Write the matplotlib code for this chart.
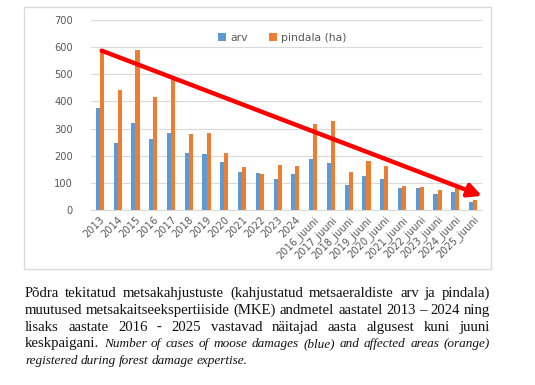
import numpy as np
from matplotlib import pyplot as plt
from matplotlib.patches import Rectangle

# categories and values
years = ["2013", "2014", "2015", "2016", "2017", "2018", "2019", "2020",
         "2021", "2022", "2023", "2024",
         "2016_juuni", "2017_juuni", "2018_juuni", "2019_juuni", "2020_juuni",
         "2021_juuni", "2022_juuni", "2023_juuni", "2024_juuni", "2025_juuni"]
arv = [377, 246, 320, 263, 284, 209, 205, 177, 140, 136, 115, 131,
       188, 172, 93, 124, 115, 80, 80, 59, 68, 28]
pindala = [587, 443, 589, 415, 494, 280, 285, 211, 157, 134, 167, 161,
           317, 328, 141, 180, 161, 90, 84, 75, 86, 37]

# trend arrow, data coords (start, end)
arrow_start = (0.1, 587)
arrow_end = (21.5, 52)

caption_lines = [
    [("Põdra tekitatud metsakahjustuste (kahjustatud metsaeraldiste arv ja pindala)", "normal")],
    [("muutused metsakaitseekspertiiside (MKE) andmetel aastatel 2013 – 2024 ning", "normal")],
    [("lisaks aastate 2016 - 2025 vastavad näitajad aasta algusest kuni juuni", "normal")],
    [("keskpaigani.", "normal"),
     ("Number of cases of moose damages (blue) and affected areas (orange)", "italic")],
    [("registered during forest damage expertise.", "italic")],
]

W, H = 535, 385
fig = plt.figure(figsize=(W / 100, H / 100), dpi=100)

# chart frame
fig.patches.append(Rectangle((24 / W, 1 - 269 / H), 467 / W, 262 / H,
                             transform=fig.transFigure, fill=False,
                             edgecolor="#d9d9d9", lw=1.0))

ax = fig.add_axes([91 / W, 1 - 210 / H, 391 / W, 190 / H])
x = np.arange(len(years))
w = 0.23
ax.bar(x - w / 2, arv, w, color="#5b9bd5", label="arv", zorder=2)
ax.bar(x + w / 2, pindala, w, color="#ed7d31", label="pindala (ha)", zorder=2)

ax.set_xlim(-0.5, len(years) - 0.5)
ax.set_ylim(0, 700)
ax.set_yticks(range(0, 701, 100))
ax.grid(axis="y", color="#d9d9d9", lw=0.8, zorder=0)
for s in ["top", "right", "left"]:
    ax.spines[s].set_visible(False)
ax.spines["bottom"].set_color("#d9d9d9")
ax.set_xticks(x)
ax.set_xticklabels(years, rotation=45, ha="right", rotation_mode="anchor")
ax.tick_params(axis="both", length=0, labelsize=7.1, colors="#595959", pad=3)
ax.tick_params(axis="y", pad=13)

ax.legend(loc="upper center", bbox_to_anchor=(0.49, 0.985), ncol=2, frameon=False,
          fontsize=7.8, labelcolor="#595959", handlelength=0.7, handleheight=0.7,
          columnspacing=2.0, handletextpad=0.4)

ax.annotate("", xy=arrow_end, xytext=arrow_start,
            arrowprops=dict(arrowstyle="-|>", color="#ff0000", lw=3.2,
                            mutation_scale=20, shrinkA=0, shrinkB=0),
            annotation_clip=False, zorder=5)

# justified caption
fig.canvas.draw()
r = fig.canvas.get_renderer()
left, right = 25, 490
base = 297
for li, segs in enumerate(caption_lines):
    words = []
    for txt, style in segs:
        for wd in txt.split(" "):
            words.append((wd, style))
    arts = []
    for wd, style in words:
        size = 10.6 if style == "normal" else 9.5
        t = fig.text(0, 0, wd, fontsize=size, family="Liberation Serif",
                     style=style, color="#111111", va="baseline")
        arts.append(t)
    widths = [t.get_window_extent(r).width for t in arts]
    last = li == len(caption_lines) - 1
    if last:
        gap = 3.0
    else:
        gap = (right - left - sum(widths)) / (len(arts) - 1)
    xp = left
    y = 1 - (base + li * 16.8) / H
    for t, wdt in zip(arts, widths):
        t.set_position((xp / W, y))
        xp += wdt + gap

fig.savefig("out.png", dpi=100)
